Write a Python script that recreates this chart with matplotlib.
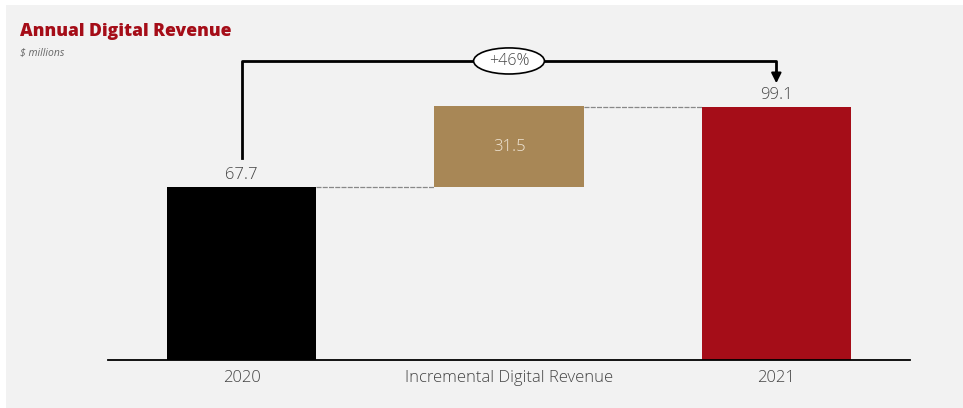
import matplotlib.pyplot as plt
from matplotlib.patches import Ellipse, Rectangle

categories = ['2020', 'Incremental Digital Revenue', '2021']
values = [67.7, 31.5, 99.1]
bottoms = [0, 67.7, 0]
colors = ['#000000', '#a88756', '#a50d18']
growth_label = '+46%'

plt.rcParams['font.family'] = ['Open Sans', 'DejaVu Sans']

fig = plt.figure(figsize=(9.63, 4.08), dpi=100)
fig.patch.set_facecolor('white')
# gray panel with thin white edge at top/left
fig.add_artist(Rectangle((6 / 963, -0.1), 1.1, 1.1 - 5 / 408, transform=fig.transFigure,
                         facecolor='#f2f2f2', edgecolor='none', zorder=0))

ax = fig.add_axes([108 / 963, 48 / 408, 802 / 963, 320 / 408])
ax.set_facecolor('none')

x = range(len(categories))
ax.bar(x, values, bottom=bottoms, width=0.558, color=colors, zorder=2)

# connectors
w = 0.558 / 2
ax.plot([0 + w, 1 - w], [values[0], values[0]], color='#888888', lw=0.9, ls=(0, (4, 1)), zorder=1)
ax.plot([1 + w, 2 - w], [values[2], values[2]], color='#888888', lw=0.9, ls=(0, (4, 1)), zorder=1)

# value labels
ax.text(0, values[0] + 1.5, f'{values[0]}', ha='center', va='bottom', fontsize=12,
        color='#444444', fontweight='light')
ax.text(2, values[2] + 1.5, f'{values[2]}', ha='center', va='bottom', fontsize=12,
        color='#444444', fontweight='light')
ax.text(1, bottoms[1] + values[1] / 2, f'{values[1]}', ha='center', va='center', fontsize=12,
        color='#f0e6d6', fontweight='light')

# growth bracket
top = 117
ax.plot([0, 0, 2, 2], [79, top, top, 112], color='black', lw=2, zorder=3)
ax.annotate('', xy=(2, 108.3), xytext=(2, 113),
            arrowprops=dict(arrowstyle='-|>', color='black', lw=1.5, mutation_scale=15,
                            shrinkA=0, shrinkB=0), zorder=3)
ax.add_patch(Ellipse((1.0, top), 0.265, 10.2, facecolor='white', edgecolor='black', lw=1.2, zorder=4))
ax.text(1.0, top, growth_label, ha='center', va='center', fontsize=11.5, color='#444444',
        fontweight='light', zorder=5)

ax.set_xlim(-0.5, 2.5)
ax.set_ylim(0, 125.2)
ax.set_xticks(list(x))
ax.set_xticklabels(categories, fontsize=12, color='#444444', fontweight='light')
ax.tick_params(axis='x', length=0, pad=7)
ax.set_yticks([])
for s in ['top', 'right', 'left']:
    ax.spines[s].set_visible(False)
ax.spines['bottom'].set_linewidth(1.3)

fig.text(20 / 963, 1 - 32 / 408, 'Annual Digital Revenue', fontsize=12.6, fontweight='heavy',
         color='#a50d18', va='center')
fig.text(20 / 963, 1 - 53 / 408, '$ millions', fontsize=7.5, style='italic', color='#666666', va='center')

fig.savefig('out.png', dpi=100, facecolor=fig.get_facecolor())
